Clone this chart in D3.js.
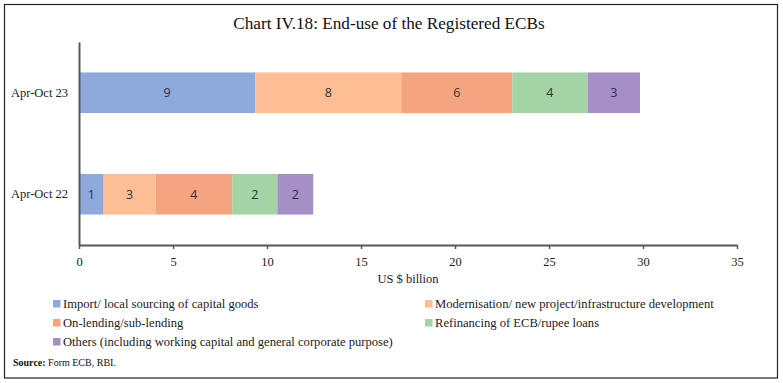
<!DOCTYPE html>
<html>
<head>
<meta charset="utf-8">
<script src="https://cdn.jsdelivr.net/npm/d3@7"></script>
<style>
  html, body { margin: 0; padding: 0; background: #fff; }
  svg { display: block; }
</style>
</head>
<body>
<svg id="chart" width="783" height="383"></svg>
<script>
// ---- Data ----
const categories = ["Apr-Oct 23", "Apr-Oct 22"];
const seriesNames = [
  "Import/ local sourcing of capital goods",
  "Modernisation/ new project/infrastructure development",
  "On-lending/sub-lending",
  "Refinancing of ECB/rupee loans",
  "Others (including working capital and general corporate purpose)"
];
const importGoods   = [9.38, 1.31];
const modernisation = [7.76, 2.76];
const onLending     = [5.91, 4.08];
const refinancing   = [4.00, 2.40];
const others        = [2.79, 1.91];
const xTicks = [0, 5, 10, 15, 20, 25, 30, 35];
const seriesColors = ["#8EA9DB", "#FCBE92", "#F6A480", "#A4D3A6", "#A68EC6"];

const seriesValues = [importGoods, modernisation, onLending, refinancing, others];
const rows = categories.map((c, i) => {
  const r = { category: c };
  seriesNames.forEach((s, j) => r[s] = seriesValues[j][i]);
  return r;
});

const svg = d3.select("#chart");
const serif = "'Liberation Serif', 'DejaVu Serif', serif";
const sans = "'Open Sans', 'Noto Sans', sans-serif";

// frame
svg.append("rect").attr("x", 4.5).attr("y", 4.5).attr("width", 773).attr("height", 373.5)
  .attr("fill", "none").attr("stroke", "#222").attr("stroke-width", 1.2);

// title
svg.append("text").attr("x", 389).attr("y", 29).attr("text-anchor", "middle")
  .attr("font-family", serif).attr("font-size", 17.2).attr("fill", "#111")
  .text("Chart IV.18: End-use of the Registered ECBs");

const x = d3.scaleLinear().domain([0, 35]).range([79, 737]);
const y = d3.scaleBand().domain(categories).range([42, 245]).paddingInner(0.6).paddingOuter(0.3);

const stack = d3.stack().keys(seriesNames);
const stacked = stack(rows);

const g = svg.append("g");
stacked.forEach((layer, i) => {
  const lg = g.append("g");
  lg.selectAll("rect").data(layer).join("rect")
    .attr("x", d => x(d[0]))
    .attr("y", d => y(d.data.category))
    .attr("width", d => x(d[1]) - x(d[0]))
    .attr("height", y.bandwidth())
    .attr("fill", seriesColors[i]);
  lg.selectAll("text").data(layer).join("text")
    .attr("x", d => (x(d[0]) + x(d[1])) / 2)
    .attr("y", d => y(d.data.category) + y.bandwidth() / 2)
    .attr("dy", "0.35em")
    .attr("text-anchor", "middle")
    .attr("font-family", sans).attr("font-size", 12.5).attr("fill", "#333")
    .text(d => d3.format(".0f")(d[1] - d[0]));
});

// x axis
const xAxis = svg.append("g").attr("transform", "translate(0,245)")
  .call(d3.axisBottom(x).tickValues(xTicks).tickSize(4).tickSizeOuter(0).tickPadding(8));
xAxis.select(".domain").attr("stroke", "#595959").attr("stroke-width", 2);
xAxis.selectAll(".tick line").attr("stroke", "#595959").attr("stroke-width", 1.5);
xAxis.selectAll(".tick text").attr("font-family", serif).attr("font-size", 12.5).attr("fill", "#222");

// y axis
const yAxis = svg.append("g").attr("transform", "translate(79,0)")
  .call(d3.axisLeft(y).tickSize(0).tickPadding(11));
yAxis.select(".domain").attr("stroke", "#595959").attr("stroke-width", 2);
yAxis.selectAll(".tick text").attr("font-family", serif).attr("font-size", 12.5).attr("fill", "#222");

// x axis title
svg.append("text").attr("x", 408).attr("y", 283).attr("text-anchor", "middle")
  .attr("font-family", serif).attr("font-size", 12.5).attr("fill", "#222")
  .text("US $ billion");

// legend
const legendPos = [[53, 304], [425, 304], [53, 323], [425, 323], [53, 342]];
seriesNames.forEach((s, i) => {
  const [lx, ly] = legendPos[i];
  svg.append("rect").attr("x", lx).attr("y", ly - 4).attr("width", 7.5).attr("height", 7.5)
    .attr("fill", seriesColors[i]);
  svg.append("text").attr("x", lx + 10).attr("y", ly).attr("dy", "0.35em")
    .attr("font-family", serif).attr("font-size", 12.6).attr("fill", "#222").text(s);
});

// source
const src = svg.append("text").attr("x", 13).attr("y", 366)
  .attr("font-family", serif).attr("font-size", 10).attr("fill", "#111");
src.append("tspan").attr("font-weight", "bold").text("Source:");
src.append("tspan").text(" Form ECB, RBI.");
</script>
</body>
</html>
